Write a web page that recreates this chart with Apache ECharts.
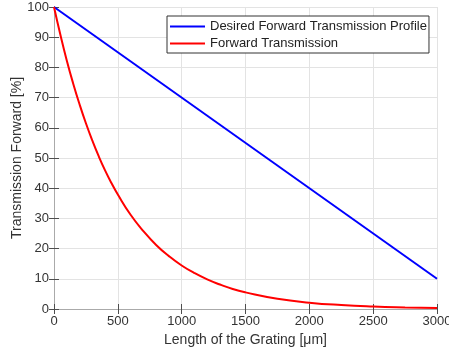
<!DOCTYPE html>
<html>
<head>
<meta charset="utf-8">
<script src="https://cdn.jsdelivr.net/npm/echarts@6/dist/echarts.min.js"></script>
<style>html,body{margin:0;padding:0;background:#fff}#c{width:449px;height:356px}</style>
</head>
<body>
<div id="c"></div>
<script>
const xTicks = [0, 500, 1000, 1500, 2000, 2500, 3000];
const yTicks = [0, 10, 20, 30, 40, 50, 60, 70, 80, 90, 100];
const desiredX = [0, 3000];
const desiredY = [100, 10];
const fwdX = [0, 50, 100, 150, 200, 250, 300, 350, 400, 450, 500, 600, 700, 800, 900, 1000, 1100, 1200, 1300, 1400, 1500, 1750, 2000, 2250, 2500, 2750, 3000];
const fwdY = [100, 90.8, 82.3, 74.7, 67.8, 61.5, 55.8, 50.6, 45.9, 41.7, 37.9, 31.2, 25.8, 21.2, 17.5, 14.4, 11.9, 9.8, 8.1, 6.6, 5.5, 3.4, 2.1, 1.3, 0.8, 0.5, 0.3];
const seriesNames = ['Desired Forward Transmission Profile', 'Forward Transmission'];

const font = 'Liberation Sans, Arial, Helvetica, sans-serif';
const axisCol = '#4d4d4d';
const chart = echarts.init(document.getElementById('c'), null, {renderer: 'canvas'});
const zip = (a, b) => a.map((v, i) => [v, b[i]]);
const baseAxis = {
  type: 'value',
  axisLine: {show: true, lineStyle: {color: axisCol, width: 1}},
  axisTick: {show: true, inside: true, length: 5, lineStyle: {color: axisCol}},
  splitLine: {show: true, lineStyle: {color: '#e3e3e3', width: 1}},
  axisLabel: {color: '#333', fontFamily: font, fontSize: 13, formatter: v => String(v)},
  nameTextStyle: {color: '#333', fontFamily: font, fontSize: 14},
  nameMoveOverlap: false
};
chart.setOption({
  animation: false,
  backgroundColor: '#fff',
  grid: {left: 54, right: 12, top: 7, bottom: 47, containLabel: false, outerBoundsMode: 'none'},
  legend: {
    orient: 'vertical', left: 167, top: 16,
    data: seriesNames,
    icon: 'rect', itemWidth: 35, itemHeight: 2, itemGap: 4,
    padding: [4, 2, 3, 3],
    borderColor: '#333', borderWidth: 1, backgroundColor: '#fff',
    textStyle: {fontFamily: font, fontSize: 13, color: '#222'}
  },
  xAxis: [
    Object.assign({}, baseAxis, {
      min: 0, max: 3000, interval: 500,
      name: 'Length of the Grating [μm]', nameLocation: 'middle', nameGap: 24,
      axisLabel: Object.assign({}, baseAxis.axisLabel, {margin: 6})
    }),
    Object.assign({}, baseAxis, {
      position: 'top', min: 0, max: 3000, interval: 500,
      axisLabel: {show: false}, splitLine: {show: false},
      axisLine: {show: true, lineStyle: {color: '#aaa'}}
    })
  ],
  yAxis: [
    Object.assign({}, baseAxis, {
      min: 0, max: 100, interval: 10,
      name: 'Transmission Forward [%]', nameLocation: 'middle', nameGap: 30,
      axisLabel: Object.assign({}, baseAxis.axisLabel, {margin: 5})
    }),
    Object.assign({}, baseAxis, {
      position: 'right', min: 0, max: 100, interval: 10,
      axisLabel: {show: false}, splitLine: {show: false},
      axisLine: {show: true, lineStyle: {color: '#aaa'}}
    })
  ],
  series: [
    {name: seriesNames[0], type: 'line', data: zip(desiredX, desiredY), symbol: 'none',
     lineStyle: {color: '#0000ff', width: 2}, itemStyle: {color: '#0000ff'}, z: 3},
    {name: seriesNames[1], type: 'line', data: zip(fwdX, fwdY), symbol: 'none', smooth: true,
     lineStyle: {color: '#ff0000', width: 2}, itemStyle: {color: '#ff0000'}, z: 4}
  ]
});
</script>
</body>
</html>
